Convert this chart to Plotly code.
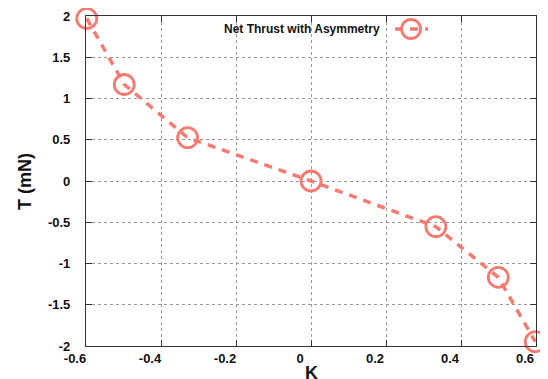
import plotly.graph_objects as go

k_vals = [-0.598, -0.498, -0.329, 0.0, 0.333, 0.4995, 0.598]
thrust_vals = [1.97, 1.17, 0.525, 0.0, -0.554, -1.167, -1.948]
x_ticks = [-0.6, -0.4, -0.2, 0, 0.2, 0.4, 0.6]
x_tick_labels = ["-0.6", "-0.4", "-0.2", "0", "0.2", "0.4", "0.6"]
y_ticks = [-2, -1.5, -1, -0.5, 0, 0.5, 1, 1.5, 2]
y_tick_labels = ["-2", "-1.5", "-1", "-0.5", "0", "0.5", "1", "1.5", "2"]
series_name = "Net Thrust with Asymmetry"
x_title = "K"
y_title = "T (mN)"

color = "rgb(246,122,112)"
font_family = "Liberation Sans, Arial, sans-serif"

fig = go.Figure()
fig.add_trace(go.Scatter(
    x=k_vals, y=thrust_vals, mode="lines+markers", name=series_name,
    line=dict(color=color, width=3.5, dash="8px,7px"),
    marker=dict(symbol="circle-open", size=20, color=color, line=dict(width=2.8, color=color)),
    cliponaxis=False, showlegend=False,
))

axis_common = dict(
    showline=True, linecolor="#333", linewidth=1.2, mirror="ticks",
    ticks="inside", ticklen=6, tickcolor="#333", tickwidth=1,
    showgrid=True, gridcolor="#9a9a9a", gridwidth=1, griddash="dot",
    zeroline=False, automargin=False,
    tickfont=dict(family=font_family, size=13, color="#111", weight="bold"),
)

# legend (gnuplot style: text on the left, sample on the right)
leg_y = 0.9606
fig.add_annotation(
    xref="paper", yref="paper", x=0.6556, y=leg_y, xanchor="right", yanchor="middle",
    text=series_name, showarrow=False, borderpad=0,
    font=dict(family=font_family, size=12, color="#111", weight="bold"),
)
fig.add_shape(type="line", xref="paper", yref="paper",
              x0=0.6867, x1=0.7600, y0=leg_y, y1=leg_y,
              line=dict(color=color, width=3.5, dash="8px,7px"))
fig.add_shape(type="circle", xref="paper", yref="paper",
              x0=0.7222 - 0.0211, x1=0.7222 + 0.0211,
              y0=leg_y - 0.0288, y1=leg_y + 0.0288,
              line=dict(color=color, width=2.8))

# axis titles as annotations
fig.add_annotation(
    xref="paper", yref="paper", x=0.5, y=-0.082, xanchor="center", yanchor="middle",
    text=x_title, showarrow=False, borderpad=0,
    font=dict(family=font_family, size=18, color="#111", weight="bold"),
)
fig.add_annotation(
    xref="paper", yref="paper", x=-0.1356, y=0.5, xanchor="center", yanchor="middle",
    text=y_title, showarrow=False, borderpad=0, textangle=-90,
    font=dict(family=font_family, size=18, color="#111", weight="bold"),
)

# the page body has an 8px default margin, so the figure is offset by 8px (left/top)
fig.update_layout(
    width=540, height=371,
    margin=dict(l=78, r=12, t=8, b=33),
    paper_bgcolor="white", plot_bgcolor="white",
    xaxis=dict(range=[-0.6, 0.6], tickvals=x_ticks, ticktext=x_tick_labels,
               ticklabelstandoff=0, ticklabelshift=-11, **axis_common),
    yaxis=dict(range=[-2, 2], tickvals=y_ticks, ticktext=y_tick_labels,
               ticklabelstandoff=12, **axis_common),
    showlegend=False,
)

fig.write_html("out.html")
